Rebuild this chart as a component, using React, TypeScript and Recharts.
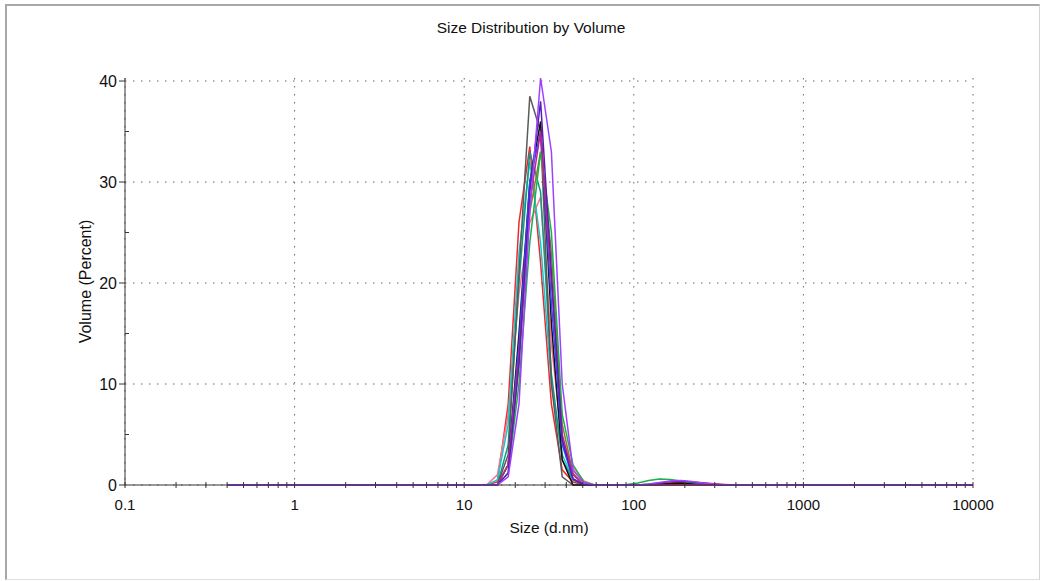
import React from 'react';
import { LineChart, Line, XAxis, YAxis, CartesianGrid } from 'recharts';

// Zetasizer size bins (d.nm)
const sizes = [
  0.4, 0.4632, 0.5365, 0.6213, 0.7195, 0.8332, 0.9649, 1.117, 1.294, 1.499,
  1.736, 2.01, 2.328, 2.696, 3.122, 3.615, 4.187, 4.849, 5.615, 6.503,
  7.531, 8.721, 10.1, 11.7, 13.54, 15.69, 18.17, 21.04, 24.36, 28.21,
  32.67, 37.84, 43.82, 50.75, 58.77, 68.06, 78.82, 91.28, 105.7, 122.4,
  141.8, 164.2, 190.1, 220.2, 255.0, 295.3, 342.0, 396.1, 458.7, 531.2,
  615.1, 712.4, 825.0, 955.4, 1106, 1281, 1484, 1718, 1990, 2305,
  2669, 3091, 3580, 4145, 4801, 5560, 6439, 7456, 8635, 10000,
];

// bins 0.4 .. 13.54 nm are empty for every record
const below15 = [0, 0, 0, 0, 0, 0, 0, 0, 0, 0, 0, 0, 0, 0, 0, 0, 0, 0, 0, 0, 0, 0, 0, 0, 0];
// bins 531.2 .. 10000 nm
const above500 = [0, 0, 0, 0, 0, 0, 0, 0, 0, 0, 0, 0, 0, 0, 0, 0, 0, 0, 0, 0, 0];

// each record: 15.69..68.06 (11 bins), then 78.82..458.7 (13 bins)
const red = [...below15, 0.3, 8, 26, 33.5, 22, 8, 1.5, 0.3, 0, 0, 0,
  0, 0, 0, 0.05, 0.12, 0.2, 0.3, 0.3, 0.22, 0.12, 0.05, 0, 0, ...above500];
const pink = [...below15, 1, 7, 19, 26, 28.5, 14, 4, 1.8, 0.4, 0, 0,
  0, 0, 0, 0, 0, 0, 0, 0, 0, 0, 0, 0, 0, ...above500];
const cyan = [...below15, 0.5, 6, 23, 32, 24, 10, 3, 0.6, 0, 0, 0,
  0, 0, 0, 0, 0, 0, 0, 0, 0, 0, 0, 0, 0, ...above500];
const teal = [...below15, 0, 4, 20, 33, 29, 11, 2.5, 0.5, 0, 0, 0,
  0, 0, 0, 0, 0, 0, 0, 0, 0, 0, 0, 0, 0, ...above500];
const grey = [...below15, 0, 3, 21, 38.5, 35, 10, 0.8, 0, 0, 0, 0,
  0, 0, 0, 0, 0, 0, 0, 0, 0, 0, 0, 0, 0, ...above500];
const black = [...below15, 0, 2, 15, 30, 36, 16, 2.5, 0, 0, 0, 0,
  0, 0, 0, 0, 0.05, 0.15, 0.2, 0.15, 0.08, 0, 0, 0, 0, ...above500];
const blue = [...below15, 0, 2, 14, 30, 35, 18, 4, 0.6, 0, 0, 0,
  0, 0, 0, 0, 0, 0, 0, 0, 0, 0, 0, 0, 0, ...above500];
const olive = [...below15, 0, 2, 12, 27, 33, 23, 6, 1.2, 0, 0, 0,
  0, 0, 0, 0, 0, 0, 0, 0, 0, 0, 0, 0, 0, ...above500];
const green = [...below15, 0, 1.2, 10, 24, 33, 25, 7, 2, 0.3, 0, 0,
  0, 0.05, 0.2, 0.45, 0.6, 0.55, 0.4, 0.25, 0.12, 0.05, 0, 0, 0, ...above500];
const magenta = [...below15, 0, 2, 13, 28, 35, 20, 5, 1, 0, 0, 0,
  0, 0, 0, 0, 0, 0, 0, 0, 0, 0, 0, 0, 0, ...above500];
const indigo = [...below15, 0, 1.2, 12, 29, 38, 21, 4.5, 0.6, 0, 0, 0,
  0, 0, 0, 0.08, 0.2, 0.35, 0.4, 0.3, 0.18, 0.08, 0, 0, 0, ...above500];
const violet = [...below15, 0, 0.8, 8, 27, 40.3, 33, 10, 1.5, 0.2, 0, 0,
  0, 0, 0, 0.1, 0.25, 0.4, 0.45, 0.35, 0.2, 0.1, 0.03, 0, 0, ...above500];

const records = [
  { key: 'r1', color: '#f0282e', values: red },
  { key: 'r2', color: '#ff6f8f', values: pink },
  { key: 'r3', color: '#18c6c6', values: cyan },
  { key: 'r4', color: '#0f9a85', values: teal },
  { key: 'r5', color: '#5a5a5a', values: grey },
  { key: 'r6', color: '#111111', values: black },
  { key: 'r7', color: '#2050ff', values: blue },
  { key: 'r8', color: '#8a7a30', values: olive },
  { key: 'r9', color: '#1ab04a', values: green },
  { key: 'r10', color: '#c0208f', values: magenta },
  { key: 'r11', color: '#5a1fb0', values: indigo },
  { key: 'r12', color: '#a040ff', values: violet },
];

const xMajor = [0.1, 1, 10, 100, 1000, 10000];
const xTicks = [
  0.1, 0.2, 0.3, 0.4, 0.5, 0.6, 0.7, 0.8, 0.9,
  1, 2, 3, 4, 5, 6, 7, 8, 9,
  10, 20, 30, 40, 50, 60, 70, 80, 90,
  100, 200, 300, 400, 500, 600, 700, 800, 900,
  1000, 2000, 3000, 4000, 5000, 6000, 7000, 8000, 9000,
  10000,
];
const yMajor = [0, 10, 20, 30, 40];
const yTicks = [0, 5, 10, 15, 20, 25, 30, 35, 40];

const data = sizes.map((size, i) => {
  const row: Record<string, number> = { size };
  records.forEach((r) => {
    row[r.key] = r.values[i];
  });
  return row;
});

const font = '"Liberation Sans", Arial, Helvetica, sans-serif';

const XTick = (props: any) => {
  const { x, y, payload } = props;
  const major = xMajor.includes(payload.value);
  return (
    <g>
      <line x1={x} x2={x} y1={y - 3} y2={y + 3} stroke="#333" strokeWidth={1} />
      {major && (
        <text x={x} y={y + 25} textAnchor="middle" fontSize={15} fill="#111" fontFamily={font}>
          {payload.value}
        </text>
      )}
    </g>
  );
};

const YTick = (props: any) => {
  const { x, y, payload } = props;
  const major = yMajor.includes(payload.value);
  return (
    <g>
      {major ? (
        <line x1={x - 6} x2={x} y1={y} y2={y} stroke="#333" strokeWidth={1} />
      ) : (
        <line x1={x} x2={x + 4} y1={y} y2={y} stroke="#333" strokeWidth={1} />
      )}
      {major && (
        <text x={x - 8} y={y + 6} textAnchor="end" fontSize={16} fill="#111" fontFamily={font}>
          {payload.value}
        </text>
      )}
    </g>
  );
};

export default function App() {
  return (
    <div
      style={{
        position: 'absolute',
        left: 0,
        top: 0,
        width: 1042,
        height: 581,
        background: '#fff',
        fontFamily: font,
      }}
    >
      <div
        style={{
          position: 'absolute',
          left: 5,
          top: 4,
          width: 1032,
          height: 573,
          borderLeft: '2px solid #a8a8a8',
          borderTop: '2px solid #a8a8a8',
          borderRight: '1px solid #d4d4d4',
          borderBottom: '1px solid #e0e0e0',
        }}
      />
      <div
        style={{
          position: 'absolute',
          left: 0,
          top: 19,
          width: 1062,
          textAlign: 'center',
          fontSize: 15.5,
          color: '#111',
        }}
      >
        Size Distribution by Volume
      </div>
      <div style={{ position: 'absolute', left: 0, top: 0 }}>
        <LineChart
          width={1042}
          height={581}
          data={data}
          margin={{ top: 78, right: 69, bottom: 66, left: 65 }}
        >
          <CartesianGrid
            stroke="#666"
            strokeDasharray="1.5 6.5"
            verticalValues={xMajor}
            horizontalValues={yMajor}
          />
          <XAxis
            dataKey="size"
            type="number"
            scale="log"
            domain={[0.1, 10000]}
            ticks={xTicks}
            interval={0}
            allowDataOverflow
            height={30}
            tickSize={0}
            tickMargin={0}
            tickLine={false}
            tick={<XTick />}
            axisLine={{ stroke: '#333' }}
            label={{
              value: 'Size (d.nm)',
              position: 'insideBottom',
              offset: -18,
              fontSize: 15.5,
              fill: '#111',
              fontFamily: font,
            }}
          />
          <YAxis
            type="number"
            domain={[0, 40]}
            ticks={yTicks}
            interval={0}
            width={60}
            tickSize={0}
            tickMargin={0}
            tickLine={false}
            tick={<YTick />}
            axisLine={{ stroke: '#333' }}
            label={{
              value: 'Volume (Percent)',
              angle: -90,
              position: 'insideLeft',
              offset: 20,
              style: { textAnchor: 'middle' },
              fontSize: 16,
              fill: '#111',
              fontFamily: font,
            }}
          />
          {records.map((r) => (
            <Line
              key={r.key}
              dataKey={r.key}
              type="linear"
              stroke={r.color}
              strokeWidth={1.5}
              dot={false}
              isAnimationActive={false}
            />
          ))}
        </LineChart>
      </div>
    </div>
  );
}
